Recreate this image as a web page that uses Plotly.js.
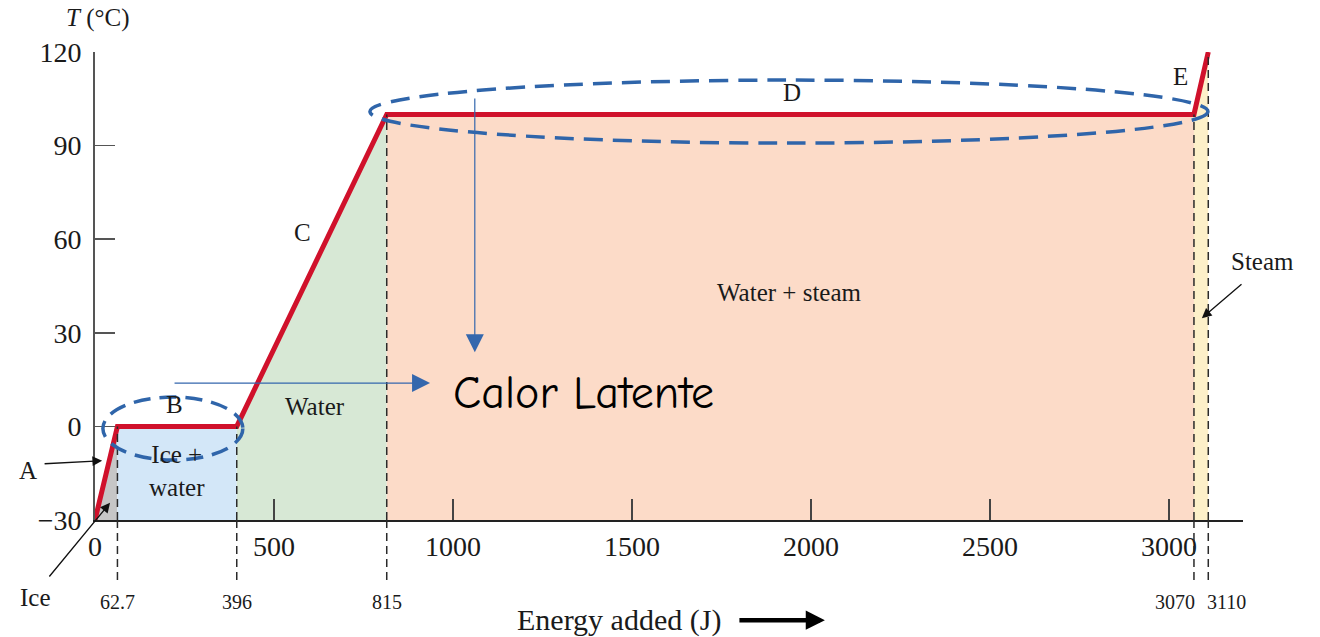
<!DOCTYPE html>
<html>
<head>
<meta charset="utf-8">
<script src="https://cdn.plot.ly/plotly-3.0.1.min.js"></script>
<style>html,body{margin:0;padding:0;background:#fff}#chart{width:1320px;height:637px}</style>
</head>
<body>
<div id="chart"></div>
<script>
// Heating curve data: energy added (J) vs temperature (°C)
const energyJ = [0, 62.7, 396, 815, 3070, 3110];
const tempC = [-30, 0, 0, 100, 100, 120];
const breakLabels = ['62.7', '396', '815', '3070', '3110'];
const breakLabelShift = [0, 0, 0, -19, 18];
const regionColors = ['#c6c6c6', '#d3e7f8', '#d7e8d5', '#fcdbc8', '#fdf0c9'];
const xTickVals = [0, 500, 1000, 1500, 2000, 2500, 3000];
const yTickVals = [-30, 0, 30, 60, 90, 120];
const segmentLetters = ['B', 'C', 'D', 'E'];
const segmentLetterX = [223, 581, 1947, 3031];
const segmentLetterY = [7, 62, 107, 112];
const phaseNames = ['Ice +<br>water', 'Water', 'Water + steam'];
const phaseX = [229, 615, 1941];
const phaseY = [-14.3, 6.5, 43];
const latentText = 'Calor Latente';

const SERIF = 'Liberation Serif, Times New Roman, serif';
const base = -30;
const traces = [];

// filled phase regions under each curve segment
for (let i = 0; i < energyJ.length - 1; i++) {
  traces.push({
    x: [energyJ[i], energyJ[i], energyJ[i + 1], energyJ[i + 1], energyJ[i]],
    y: [base, tempC[i], tempC[i + 1], base, base],
    type: 'scatter', mode: 'lines', fill: 'toself',
    fillcolor: regionColors[i], line: {width: 0}, hoverinfo: 'skip', showlegend: false
  });
}
// heating curve
traces.push({
  x: energyJ, y: tempC, type: 'scatter', mode: 'lines',
  line: {color: '#d0112b', width: 5, shape: 'linear'}, showlegend: false
});

const shapes = [];
// dashed verticals at breakpoints (inside plot, then below axis)
for (let i = 1; i < energyJ.length; i++) {
  shapes.push({type: 'line', xref: 'x', yref: 'y', x0: energyJ[i], x1: energyJ[i], y0: base, y1: tempC[i],
    line: {color: '#2a2a2a', width: 1.5, dash: '8px,5px'}, layer: 'above'});
  shapes.push({type: 'line', xref: 'x', yref: 'paper', x0: energyJ[i], x1: energyJ[i], y0: 0, y1: -0.137,
    line: {color: '#2a2a2a', width: 1.5, dash: '8px,5px'}});
}
// blue dashed ellipses
shapes.push({type: 'circle', xref: 'x', yref: 'y', x0: 22, x1: 413, y0: -10.8, y1: 9.4,
  line: {color: '#2f65aa', width: 3.5, dash: '17px,9px'}, layer: 'above'});
shapes.push({type: 'circle', xref: 'x', yref: 'y', x0: 768, x1: 3109, y0: 90.8, y1: 111,
  line: {color: '#2f65aa', width: 3.5, dash: '19px,10px'}, layer: 'above'});

const annotations = [];
const tf = (s, c) => ({family: SERIF, size: s, color: c || '#1a1a1a'});
// y axis title
annotations.push({xref: 'x', yref: 'paper', x: 8, y: 1.073, yanchor: 'middle', text: '<i>T</i> (°C)', showarrow: false, font: tf(25)});
// segment letters
annotations.push({xref: 'paper', yref: 'y', x: -0.058, y: -14, xanchor: 'center', text: 'A', showarrow: false, font: tf(25)});
for (let i = 0; i < segmentLetters.length; i++) {
  annotations.push({xref: 'x', yref: 'y', x: segmentLetterX[i], y: segmentLetterY[i], text: segmentLetters[i], showarrow: false, font: tf(25)});
}
// phase labels
for (let i = 0; i < phaseX.length; i++) {
  annotations.push({xref: 'x', yref: 'y', x: phaseX[i], y: phaseY[i], text: phaseNames[i], showarrow: false, font: tf(25), align: 'center'});
}
annotations.push({xref: 'paper', yref: 'y', x: 1.0166, y: 53, xanchor: 'center', text: 'Steam', showarrow: false, font: tf(25)});
annotations.push({xref: 'paper', yref: 'paper', x: -0.052, y: -0.165, xanchor: 'center', yanchor: 'middle', text: 'Ice', showarrow: false, font: tf(25)});
// breakpoint labels below axis
for (let i = 1; i < energyJ.length; i++) {
  annotations.push({xref: 'x', yref: 'paper', x: energyJ[i], y: -0.175, yanchor: 'middle', xshift: breakLabelShift[i - 1],
    text: breakLabels[i - 1], showarrow: false, font: tf(20)});
}
// black pointer arrows
annotations.push({xref: 'x', yref: 'y', x: 20, y: -11, axref: 'x', ayref: 'y', ax: -145, ay: -12, text: '',
  showarrow: true, arrowhead: 2, arrowsize: 1.5, arrowwidth: 1.3, arrowcolor: '#111'});
annotations.push({xref: 'x', yref: 'y', x: 42, y: -24.5, axref: 'x', ayref: 'y', ax: -131, ay: -48.6, text: '',
  showarrow: true, arrowhead: 2, arrowsize: 1.5, arrowwidth: 1.3, arrowcolor: '#111'});
annotations.push({xref: 'x', yref: 'y', x: 3092, y: 34.7, axref: 'x', ayref: 'y', ax: 3207, ay: 46, text: '',
  showarrow: true, arrowhead: 2, arrowsize: 1.5, arrowwidth: 1.3, arrowcolor: '#111'});
// x axis title and arrow
annotations.push({xref: 'x', yref: 'paper', x: 1464, y: -0.214, yanchor: 'middle', text: 'Energy added (J)', showarrow: false, font: tf(30)});
annotations.push({xref: 'x', yref: 'paper', x: 2039, y: -0.214, axref: 'x', ax: 1796, ayref: 'pixel', ay: 0, text: '',
  showarrow: true, arrowhead: 2, arrowsize: 0.85, arrowwidth: 4.5, arrowcolor: '#000'});
// blue latent heat arrows
annotations.push({xref: 'x', yref: 'y', x: 1061, y: 23.8, axref: 'x', ayref: 'y', ax: 1061, ay: 105.6, text: '',
  showarrow: true, arrowhead: 2, arrowsize: 3, arrowwidth: 1.2, arrowcolor: '#3467ad'});
annotations.push({xref: 'x', yref: 'y', x: 936, y: 13.9, axref: 'x', ayref: 'y', ax: 218, ay: 13.9, text: '',
  showarrow: true, arrowhead: 2, arrowsize: 3, arrowwidth: 1.2, arrowcolor: '#3467ad'});
annotations.push({xref: 'x', yref: 'y', x: 1366, y: 10.7, text: latentText, showarrow: false,
  font: {family: 'Comic Sans MS, Comic Neue, Noto Sans, sans-serif', size: 46, color: '#000'}});

const layout = {
  width: 1320, height: 637,
  margin: {l: 95, r: 77, t: 52, b: 117},
  paper_bgcolor: '#fff', plot_bgcolor: 'rgba(0,0,0,0)',
  showlegend: false,
  xaxis: {range: [0, 3207], showgrid: false, zeroline: false, showline: true, linecolor: '#222', linewidth: 1.5,
    ticks: 'inside', ticklen: 21, tickwidth: 1.5, tickcolor: '#444', tickvals: xTickVals,
    ticktext: xTickVals.map(String), tickfont: tf(28), ticklabelstandoff: 1},
  yaxis: {range: [-30, 120], showgrid: false, zeroline: false, showline: true, linecolor: '#555', linewidth: 1.8,
    ticks: 'inside', ticklen: 20, tickwidth: 1.5, tickcolor: '#555', tickvals: yTickVals,
    tickfont: tf(28), ticklabelstandoff: 6},
  shapes: shapes,
  annotations: annotations
};

Plotly.newPlot('chart', traces, layout, {staticPlot: true, displayModeBar: false});
</script>
</body>
</html>
